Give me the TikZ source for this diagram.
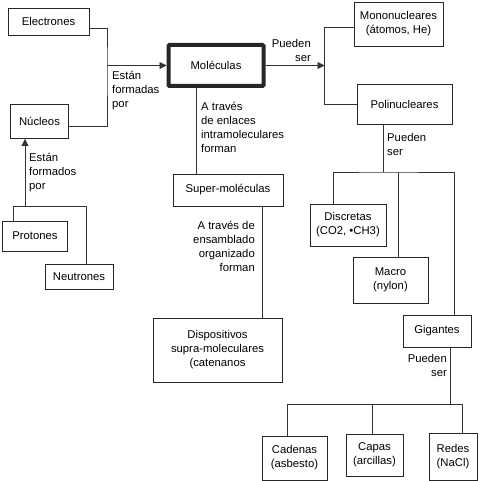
\documentclass[tikz,border=0pt]{standalone}
\usepackage{fontspec}
\setmainfont{Liberation Sans}
\usetikzlibrary{positioning,arrows.meta}

\begin{document}
\begin{tikzpicture}[x=1pt,y=-1pt,
  box/.style={draw=black!85,line width=0.9pt,fill=white,align=center,inner sep=0pt,
    font=\fontsize{11.3}{14}\selectfont},
  lbl/.style={inner sep=0pt,font=\fontsize{11.3}{14}\selectfont},
  wire/.style={draw=black!80,line width=0.9pt},
  tip/.style={wire,-{Triangle[length=7pt,width=7pt]}}]
\useasboundingbox (0,0) rectangle (479,481);
% left column
\node[box,minimum width=81,minimum height=27] (el) at (48.5,21.5) {Electrones};
\node[box,minimum width=58,minimum height=34] (nu) at (39.5,121.5) {Núcleos};
\node[box,minimum width=65,minimum height=30] (pr) at (35,236) {Protones};
\node[box,minimum width=68,minimum height=25] (ne) at (79,276.5) {Neutrones};
% centre column
\node[box,line width=4pt,rounded corners=1pt,minimum width=95,minimum height=41]
  (mo) at (216,65.5) {Moléculas};
\node[box,minimum width=110,minimum height=32] (sm) at (228,190) {Super-moléculas};
\node[box,minimum width=129,minimum height=64] (di) at (217.5,350)
  {Dispositivos\\supra-moleculares\\(catenanos};
% right column
\node[box,minimum width=89,minimum height=44] (mn) at (398.5,24) {Mononucleares\\(átomos, He)};
\node[box,minimum width=95,minimum height=40] (po) at (404.5,104) {Polinucleares};
\node[box,minimum width=76,minimum height=42] (ds) at (348,225) {Discretas\\(CO2, •CH3)};
\node[box,minimum width=75,minimum height=46] (ma) at (390.5,280) {Macro\\(nylon)};
\node[box,minimum width=68,minimum height=32] (gi) at (437,331) {Gigantes};
\node[box,minimum width=65,minimum height=44] (ca) at (294.5,458) {Cadenas\\(asbesto)};
\node[box,minimum width=57,minimum height=42] (cp) at (374.5,455) {Capas\\(arcillas)};
\node[box,minimum width=48,minimum height=47] (re) at (453,456.5) {Redes\\(NaCl)};
% junctions
\coordinate (jmo) at (107,65.5);
\coordinate (jnu) at (25,206.5);
\coordinate (jmn) at (324.5,65.5);
\coordinate (jpo) at (383,172);
\coordinate (jgi) at (450,404.5);
% links
\draw[wire] ([yshift=-6.5pt]el.east) -| (jmo) |- ([yshift=-4.5pt]nu.east);
\draw[tip] (jmo) -- (mo.west);
\draw[wire] ([xshift=-22pt]pr.north) |- (jnu) -| ([xshift=7pt]ne.north);
\draw[tip] (jnu) -- (jnu |- nu.south);
\draw[wire] ([xshift=-20pt]mo.south) -- ([xshift=-20pt]mo.south |- sm.north);
\draw[wire] ([xshift=34pt]sm.south) -- ([xshift=34pt]sm.south |- di.north);
\draw[tip] (mo.east) -- (jmn);
\draw[wire] ([yshift=-3pt]mn.west) -| (jmn) |- (po.west);
\draw[wire] ([xshift=-21.5pt]po.south) -- (jpo);
\draw[wire] ([xshift=-15pt]ds.north) |- (jpo) -| ([xshift=17pt]gi.north);
\draw[wire] ([xshift=7.5pt]ma.north) -- ([xshift=7.5pt]ma.north |- jpo);
\draw[wire] ([xshift=13pt]gi.south) -- (jgi);
\draw[wire] ([xshift=-7.5pt]ca.north) |- (jgi) -| ([xshift=9pt]re.north);
\draw[wire] ([xshift=-2.5pt]cp.north) -- ([xshift=-2.5pt]cp.north |- jgi);
% link texts
\node[lbl,align=left,anchor=west] (t1) at (112,90.5) {Están\\formadas\\por};
\node[lbl,align=left,anchor=west] (t2) at (29,173) {Están\\formados\\por};
\node[lbl,align=right,anchor=east] (t3) at (311,50) {Pueden\\ser};
\node[lbl,align=left,anchor=west] (t4) at (201,127.5) {A través\\de enlaces\\intramoleculares\\forman};
\node[lbl,align=right,anchor=east] (t5) at (255,246.5) {A través de\\ensamblado\\organizado\\forman};
\node[lbl,align=left,anchor=west] (t6) at (387,144) {Pueden\\ser};
\node[lbl,align=right,anchor=east] (t7) at (447,365.5) {Pueden\\ser};
\end{tikzpicture}
\end{document}
